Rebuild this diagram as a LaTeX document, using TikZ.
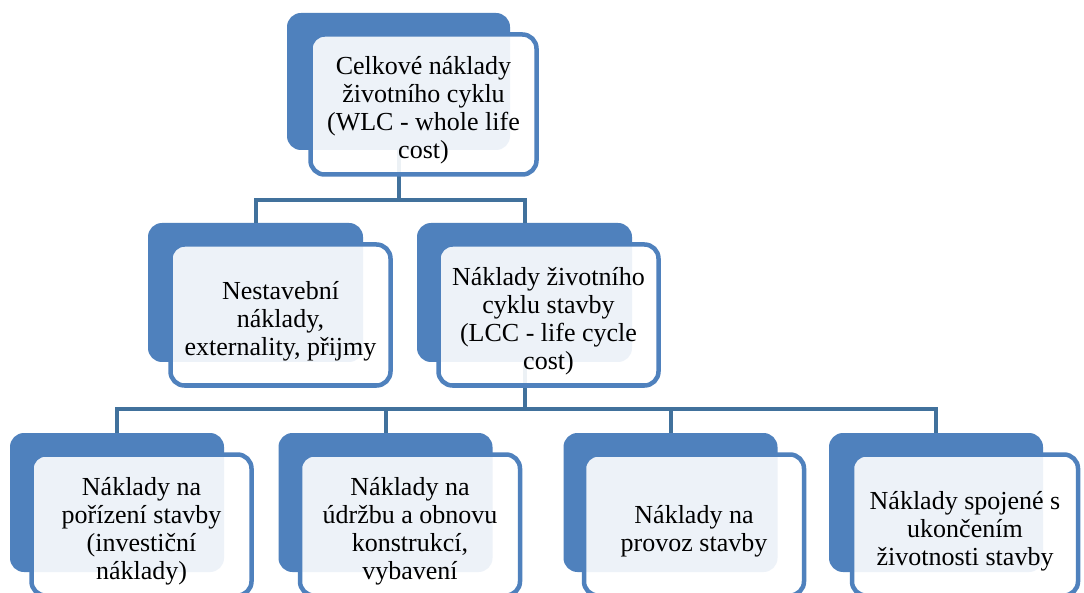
\documentclass[tikz,border=0pt]{standalone}
\usepackage{fontspec}
\setmainfont{Liberation Serif}
\definecolor{accent}{HTML}{4F81BD}
\definecolor{connc}{HTML}{41719C}
\begin{document}
\begin{tikzpicture}[x=1pt,y=-1pt,
  backbox/.style={rectangle,rounded corners=14pt,fill=accent,draw=none,inner sep=0pt,
    minimum width=215pt,minimum height=139pt},
  frontbox/.style={rectangle,rounded corners=14pt,draw=accent,line width=4.5pt,
    fill=white,fill opacity=0.9,inner sep=0pt,
    minimum width=220pt,minimum height=141pt},
  boxtext/.style={inner sep=0pt,align=center,font=\fontsize{26}{28}\selectfont,yshift=-6pt},
  connector/.style={draw=connc,line width=4pt}]
\useasboundingbox (0,0) rectangle (1084,593);
\clip (0,0) rectangle (1084,593);
\fill[white] (0,0) rectangle (1084,593);
% back boxes
\node[backbox,minimum width=223pt,minimum height=137pt] (tb) at (398.5,81.5) {};
\node[backbox] (ab) at (255.5,292.5) {};
\node[backbox] (bb) at (524.5,292.5) {};
\node[backbox,minimum width=214pt] (cb1) at (117,502.5) {};
\node[backbox,minimum width=214pt] (cb2) at (385.5,502.5) {};
\node[backbox,minimum width=214pt] (cb3) at (670.5,502.5) {};
\node[backbox,minimum width=214pt] (cb4) at (936,502.5) {};
% connectors
\coordinate (j1) at (398.5,200);
\coordinate (j2) at (524.5,409);
\draw[connector] (tb.south) -- (j1) -| (ab.north);
\draw[connector] (j1) -| (bb.north);
\draw[connector] (bb.south) -- (j2) -| (cb1.north);
\draw[connector] (j2) -| (cb2.north);
\draw[connector] (j2) -| (cb3.north);
\draw[connector] (j2) -| (cb4.north);
% front boxes
\node[frontbox,minimum width=226pt,minimum height=140pt] (tf) at (423.5,104.5) {};
\node[frontbox] (af) at (280.5,315) {};
\node[frontbox] (bf) at (548.5,315) {};
\node[frontbox] (cf1) at (141.5,525) {};
\node[frontbox] (cf2) at (410,525) {};
\node[frontbox] (cf3) at (694,525) {};
\node[frontbox,minimum width=226pt] (cf4) at (965,525) {};
% texts
\node[boxtext] (tt) at (tf.center) {Celkové náklady\\životního cyklu\\(WLC - whole life\\cost)};
\node[boxtext] (at) at (af.center) {Nestavební\\náklady,\\externality, přijmy};
\node[boxtext] (bt) at (bf.center) {Náklady životního\\cyklu stavby\\(LCC - life cycle\\cost)};
\node[boxtext] (ct1) at (cf1.center) {Náklady na\\pořízení stavby\\(investiční\\náklady)};
\node[boxtext] (ct2) at (cf2.center) {Náklady na\\údržbu a obnovu\\konstrukcí,\\vybavení};
\node[boxtext] (ct3) at (cf3.center) {Náklady na\\provoz stavby};
\node[boxtext] (ct4) at (cf4.center) {Náklady spojené s\\ukončením\\životnosti stavby};
\end{tikzpicture}
\end{document}
